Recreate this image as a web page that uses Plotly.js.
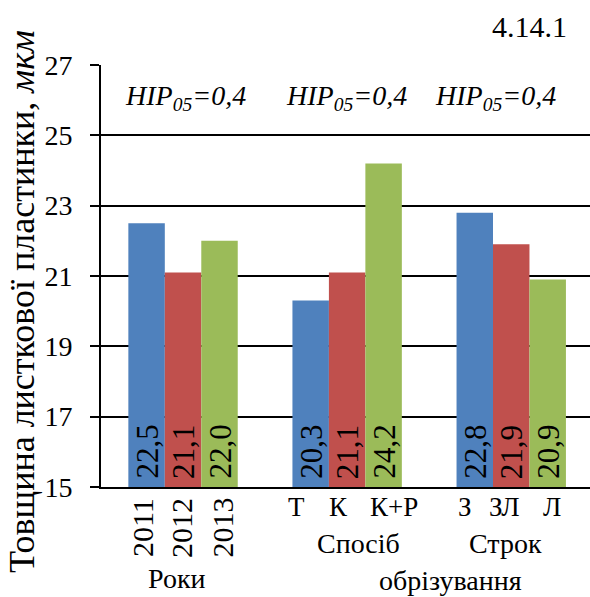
<!DOCTYPE html>
<html>
<head>
<meta charset="utf-8">
<script src="https://cdn.plot.ly/plotly-3.0.1.min.js"></script>
<style>html,body{margin:0;padding:0;background:#fff;}#chart{width:590px;height:597px;}</style>
</head>
<body>
<div id="chart"></div>
<script>
// ---- data ----
var groups = ['Роки', 'Спосіб обрізування', 'Строк обрізування'];
var barLabels = [
  ['2011', '2012', '2013'],
  ['Т', 'К', 'К+Р'],
  ['З', 'ЗЛ', 'Л']
];
// series j = position within group (blue, red, green)
var series1 = [22.5, 20.3, 22.8];
var series2 = [21.1, 21.1, 21.9];
var series3 = [22.0, 24.2, 20.9];
var hipText = ['HIP', 'HIP', 'HIP'];
var hipSub = ['05', '05', '05'];
var hipVal = ['0,4', '0,4', '0,4'];
var yTicks = [15, 17, 19, 21, 23, 25, 27];
var figNumber = '4.14.1';
var yTitle = 'Товщина листкової пластинки, ';
var yUnit = 'мкм';

// ---- style ----
var colors = ['#4F81BD', '#C0504D', '#9BBB59'];
var FONT = 'Liberation Serif';
var bargap = 1 / 3;
var bw = (1 - bargap) / 3;
var labelShift = [[-4, -2, 2], [-14, -9, 10], [-10, -7, 4]];
var hipShift = [2, -1, -16];

var allSeries = [series1, series2, series3];
var xs = [0, 1, 2];
var traces = allSeries.map(function (s, j) {
  return {
    type: 'bar', x: xs, y: s,
    marker: {color: colors[j], line: {width: 0}},
    hoverinfo: 'skip', showlegend: false
  };
});

var ann = [];
allSeries.forEach(function (s, j) {
  s.forEach(function (v, i) {
    var xc = i + (j - 1) * bw;
    ann.push({
      x: xc, y: 15, xref: 'x', yref: 'y', yanchor: 'bottom', xanchor: 'center',
      text: v.toFixed(1).replace('.', ','), textangle: -90, showarrow: false,
      yshift: 6, xshift: 0, font: {family: FONT, size: 31, color: '#000'}
    });
    var rot = (i === 0);
    ann.push({
      x: xc, y: 15, xref: 'x', yref: 'y', yanchor: 'top', xanchor: 'center',
      text: barLabels[i][j], textangle: rot ? -90 : 0, showarrow: false,
      xshift: labelShift[i][j], yshift: rot ? -9 : -3,
      font: {family: FONT, size: rot ? 30 : 27, color: '#000'}
    });
  });
});
xs.forEach(function (i) {
  ann.push({
    x: i, y: 26.09, xref: 'x', yref: 'y', xanchor: 'center', yanchor: 'middle',
    text: '<i>' + hipText[i] + '<sub>' + hipSub[i] + '</sub>=' + hipVal[i] + '</i>',
    showarrow: false, xshift: hipShift[i],
    font: {family: FONT, size: 28, color: '#000'}
  });
});
var gText = [
  {t: groups[0], x: 0.1534, y: -0.218},
  {t: groups[1].split(' ')[0], x: 0.5256, y: -0.135},
  {t: groups[2].split(' ')[0], x: 0.828, y: -0.135},
  {t: groups[1].split(' ')[1], x: 0.714, y: -0.222}
];
gText.forEach(function (g) {
  ann.push({x: g.x, y: g.y, xref: 'paper', yref: 'paper', xanchor: 'center', yanchor: 'middle',
    text: g.t, showarrow: false, font: {family: FONT, size: 28, color: '#000'}});
});
ann.push({x: 0.877, y: 1.092, xref: 'paper', yref: 'paper', xanchor: 'center', yanchor: 'middle',
  text: figNumber, showarrow: false, font: {family: FONT, size: 30, color: '#000'}});
ann.push({x: -0.1616, y: 0.441, xref: 'paper', yref: 'paper', xanchor: 'center', yanchor: 'middle',
  text: yTitle + '<i>' + yUnit + '</i>', textangle: -90, showarrow: false,
  font: {family: FONT, size: 36, color: '#000'}});

var layout = {
  width: 590, height: 597,
  margin: {l: 101, r: 0, t: 65, b: 110},
  paper_bgcolor: '#fff', plot_bgcolor: '#fff',
  barmode: 'group', bargap: bargap, bargroupgap: 0,
  xaxis: {range: [-0.5, 2.48], showticklabels: false, ticks: '', showgrid: false,
    zeroline: false, showline: true, linecolor: '#000', linewidth: 2, fixedrange: true},
  yaxis: {range: [15, 27], tickvals: yTicks, ticktext: yTicks.map(String),
    ticks: 'outside', ticklen: 9, tickwidth: 2, tickcolor: '#000', ticklabelstandoff: 12,
    showgrid: true, gridcolor: '#000', gridwidth: 2, zeroline: false,
    showline: true, linecolor: '#000', linewidth: 2,
    tickfont: {family: FONT, size: 28, color: '#000'}, fixedrange: true},
  annotations: ann,
  font: {family: FONT, color: '#000'}
};
Plotly.newPlot('chart', traces, layout, {staticPlot: true, displayModeBar: false});
</script>
</body>
</html>
